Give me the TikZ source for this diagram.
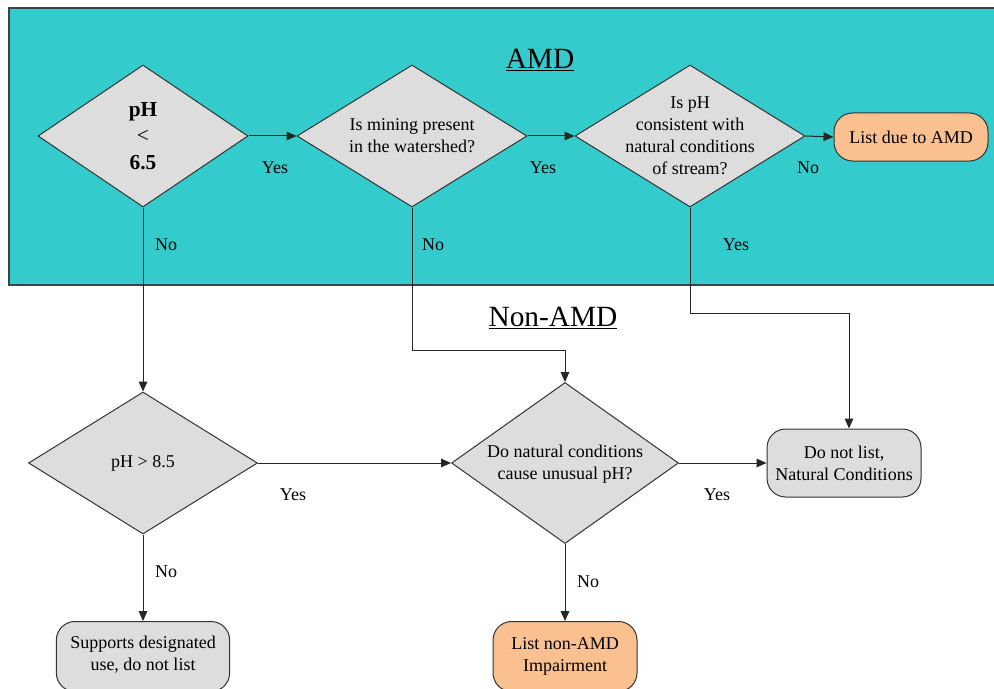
\documentclass[tikz,border=0pt]{standalone}
\usepackage{fontspec}
\setmainfont{Liberation Serif}[Ligatures=TeX]
\usetikzlibrary{arrows.meta,shapes.geometric,calc}
\definecolor{teal1}{HTML}{33CBCB}
\definecolor{gfill}{HTML}{DDDDDD}
\definecolor{peach}{HTML}{FAC08F}
\definecolor{edge}{HTML}{3A4545}
\begin{document}
\begin{tikzpicture}[x=0.75pt,y=-0.75pt,
  dia/.style={diamond, draw=black!80, fill=gfill, line width=0.75pt, inner sep=0pt},
  term/.style={rectangle, rounded corners=14pt, draw=black!80, line width=0.75pt, inner sep=0pt},
  txt/.style={font=\fontsize{13.5}{16.5}\selectfont, align=center, inner sep=0pt},
  lbl/.style={font=\fontsize{13.5}{16}\selectfont, inner sep=0pt},
  arr/.style={-{Triangle[length=7.5pt,width=6.5pt]}, line width=0.75pt, draw=black!85},
  ttl/.style={font=\fontsize{22}{26}\selectfont, inner sep=0pt}]
\useasboundingbox (0,0) rectangle (994,688);
\clip (0,0) rectangle (994,688);
\fill[white] (0,0) rectangle (994,688);
% AMD region
\node[draw=edge, line width=1.2pt, fill=teal1, inner sep=0pt, minimum width=750pt, minimum height=207.75pt, anchor=north west] (amdregion) at (8,7) {};
\node[ttl] (amdtitle) at (540,60) {\underline{AMD}};
\node[ttl] (nonamdtitle) at (553,318) {\underline{Non-AMD}};

% diamonds
\node[dia, minimum width=157.5pt, minimum height=106.5pt] (d1) at (143,136) {};
\node[txt, font=\fontsize{16}{20}\selectfont] (d1t) at (d1) {\textbf{pH}\\<\\\textbf{6.5}};
\node[dia, minimum width=172.5pt, minimum height=106.5pt] (d2) at (412,136) {};
\node[txt] (d2t) at (d2) {Is mining present\\in the watershed?};
\node[dia, minimum width=172.5pt, minimum height=106.5pt] (d3) at (690,136) {};
\node[txt] (d3t) at (690,136) {Is pH\\consistent with\\natural conditions\\of stream?};
\node[dia, minimum width=171.75pt, minimum height=106.5pt] (d4) at (143,463) {};
\node[txt] (d4t) at (d4) {pH > 8.5};
\node[dia, minimum width=170.25pt, minimum height=120.75pt] (d5) at (565,463) {};
\node[txt] (d5t) at (565,464) {Do natural conditions\\cause unusual pH?};

% terminals
\node[term, fill=peach, minimum width=115.5pt, minimum height=36pt] (amd) at (911,137) {};
\node[txt] (amdt) at (amd) {List due to AMD};
\node[term, fill=gfill, minimum width=115.5pt, minimum height=51pt] (dnl) at (844,463) {};
\node[txt] (dnlt) at (844,463) {Do not list,\\Natural Conditions};
\node[term, fill=gfill, minimum width=130pt, minimum height=52.5pt, anchor=north] (sdu) at (143,621) {};
\node[txt] (sdut) at (143,655) {Supports designated\\use, do not list};
\node[term, fill=peach, minimum width=108pt, minimum height=52.5pt, anchor=north] (lna) at (565,621) {};
\node[txt] (lnat) at (565,656) {List non-AMD\\Impairment};

% junctions
\coordinate (j1) at (412,350);
\coordinate (j2) at (690,313);

% connectors
\draw[arr] (d1.east) -- (d2.west);
\draw[arr] (d2.east) -- (d3.west);
\draw[arr] (d3.east) -- (amd.west);
\draw[arr] (d1.south) -- (d4.north);
\draw[arr] (d2.south) -- (j1) -| (d5.north);
\draw[arr] (d3.south) -- (j2) -| ([xshift=3.75pt]dnl.north);
\draw[arr] (d4.east) -- (d5.west);
\draw[arr] (d5.east) -- (dnl.west);
\draw[arr] (d4.south) -- (sdu.north);
\draw[arr] (d5.south) -- (lna.north);

% labels
\node[lbl] (y1) at (275,168) {Yes};
\node[lbl] (y2) at (543,168) {Yes};
\node[lbl] (n3) at (808,168) {No};
\node[lbl] (n1) at (166,245) {No};
\node[lbl] (n2) at (433,245) {No};
\node[lbl] (y3) at (736,245) {Yes};
\node[lbl] (y4) at (293,495) {Yes};
\node[lbl] (n4) at (166,572) {No};
\node[lbl] (y5) at (717,495) {Yes};
\node[lbl] (n5) at (588,582) {No};
\end{tikzpicture}
\end{document}
